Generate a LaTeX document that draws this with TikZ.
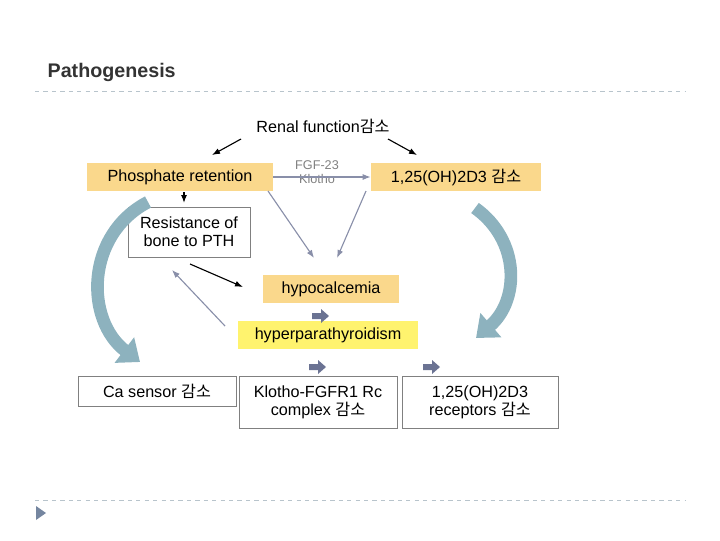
\documentclass[tikz,border=0pt]{standalone}
\usepackage{fontspec}
\setmainfont{Liberation Sans}
\newfontfamily\kr{Noto Sans CJK KR}
\usetikzlibrary{arrows.meta}
\tikzset{>={Latex[length=2mm,width=1.5mm]}}
\definecolor{boxor}{HTML}{FAD88C}
\definecolor{boxye}{HTML}{FFF36E}
\definecolor{slate}{HTML}{6B7393}
\definecolor{curvec}{HTML}{8DB2BE}
\definecolor{dashc}{HTML}{B8C4CC}
\newcommand{\gamso}{{\kr 감소}}

\begin{document}
\begin{tikzpicture}[x=0.025cm,y=-0.025cm,
  orbox/.style = {fill=boxor, minimum height=0.72cm, inner sep=2pt},
  whbox/.style = {draw=gray, fill=white, align=center, inner sep=2pt, font=\fontsize{11.5}{13}\selectfont},
  blk/.style = {fill=slate, draw=none},
  big/.style = {line width=9pt, curvec, -{Triangle[length=14pt,width=22pt]}}]
\useasboundingbox (0,0) rectangle (720,540);
\fontsize{11.5}{13}\selectfont
% title and rules
\node[anchor=west,font=\bfseries\fontsize{14}{16}\selectfont,text=black!80] (title) at (42,72) {Pathogenesis};
\draw[dashc,dashed] (35,91) -- (686,91);
\draw[dashc,dashed] (35,500) -- (686,500);
\fill[slate!70!curvec] (36,506) -- (46,513) -- (36,520) -- cycle;
% nodes
\node (renal) at (323,126) {Renal function\gamso};
\node[orbox,minimum width=4.65cm] (phos) at (180,177) {Phosphate retention};
\node[text=gray,align=center,font=\fontsize{9}{10}\selectfont] (fgf) at (317,172) {FGF-23\\Klotho};
\node[orbox,minimum width=4.25cm] (vitd) at (456,177) {1,25(OH)2D3 \gamso};
\node[whbox,minimum width=3.05cm,minimum height=1.25cm] (bone) at (189,232) {Resistance of\\bone to PTH};
\node[orbox,minimum width=3.4cm] (hypo) at (331,289) {hypocalcemia};
\node[orbox,fill=boxye,minimum width=4.5cm] (hpt) at (328,335) {hyperparathyroidism};
\node[whbox,minimum width=3.95cm,minimum height=0.75cm] (casens) at (157,391) {Ca sensor \gamso};
\node[whbox,minimum width=3.95cm,minimum height=1.3cm] (klotho) at (318,402) {Klotho-FGFR1 Rc\\complex \gamso};
\node[whbox,minimum width=3.9cm,minimum height=1.3cm] (rec) at (480,402) {1,25(OH)2D3\\receptors \gamso};
% connectors
\draw[thick,->] (241,139) -- (212,155);
\draw[thick,->] (388,139) -- (417,155);
\draw[thick,slate!80,->] (phos.east) -- (vitd.west);
\draw[thick,->] (184,192) -- (184,203);
\draw[thick,slate!80,->] (268,191) -- (314,258);
\draw[thick,slate!80,->] (366,191) -- (337,258);
\draw[thick,->] (190,264) -- (243,287);
\draw[thick,slate!80,->] (225,326) -- (172,270);
% block arrows
\foreach \x/\y in {320/316, 317/367, 431/367}
  \fill[blk] (\x-8,\y-3) -- (\x+1,\y-3) -- (\x+1,\y-7) -- (\x+9,\y) -- (\x+1,\y+7) -- (\x+1,\y+3) -- (\x-8,\y+3) -- cycle;
% big curved arrows
\draw[big] (148,202) .. controls (85,235) and (85,320) .. (140,362);
\draw[big] (475,208) .. controls (520,240) and (520,300) .. (476,338);
\end{tikzpicture}
\end{document}
